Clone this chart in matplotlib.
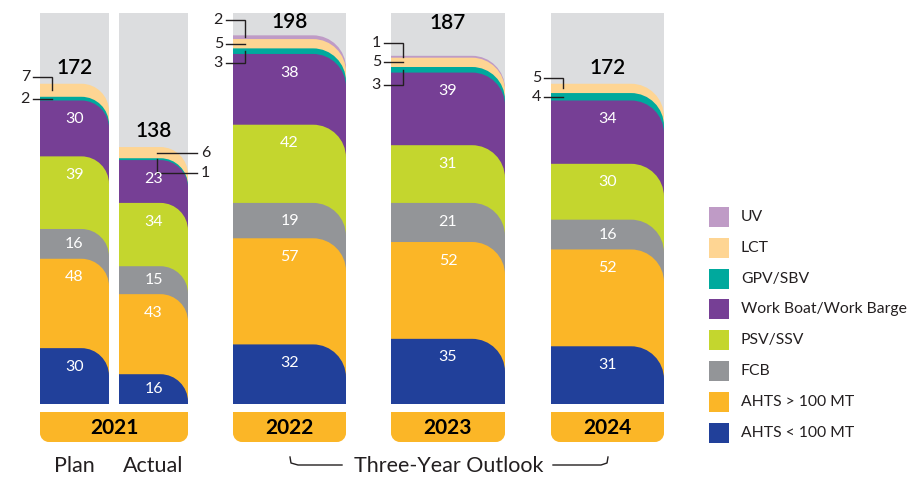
import numpy as np
import matplotlib.pyplot as plt
from matplotlib.path import Path
from matplotlib.patches import PathPatch, Rectangle

plt.rcParams['font.family'] = ['Lato', 'DejaVu Sans']

# Data: fleet by vessel type, bottom to top
categories = ['AHTS < 100 MT', 'AHTS > 100 MT', 'FCB', 'PSV/SSV',
              'Work Boat/Work Barge', 'GPV/SBV', 'LCT', 'UV']
colors = ['#21409a', '#fbb627', '#939598', '#c4d62e',
          '#763f95', '#00a99d', '#fed593', '#bf9bc6']

bars = ['Plan', 'Actual', '2022', '2023', '2024']
ahts_small = [30, 16, 32, 35, 31]
ahts_large = [48, 43, 57, 52, 52]
fcb = [16, 15, 19, 21, 16]
psv = [39, 34, 42, 31, 30]
work_boat = [30, 23, 38, 39, 34]
gpv = [2, 1, 3, 3, 4]
lct = [7, 6, 5, 5, 5]
uv = [0, 0, 2, 1, 0]
years = ['2021', '2022', '2023', '2024']

series = np.array([ahts_small, ahts_large, fcb, psv, work_boat, gpv, lct, uv])
cum = np.cumsum(series, axis=0)
totals = cum[-1]

# layout (x in pixels, y in data units)
PX = 391 / 210          # pixels per unit
Y0 = 404                # pixel row of the baseline
x_left = [40, 119, 233, 391, 551]
x_right = [109, 188, 346, 505, 664]
total_pad = [8.5, 8.5, 7, 17.5, 8.3]
TXT = '#231f20'

def py(p):
    return (Y0 - p) / PX

fig = plt.figure(figsize=(9.1, 4.78), dpi=100)
ax = fig.add_axes([0, 0, 1, 1])
ax.set_xlim(0, 910)
ax.set_ylim(py(478), py(0))
ax.axis('off')

K = 0.5523

def round_bar(x0, x1, top, r, color, bottom=0.0):
    rx, ry = r, r / PX
    verts = [(x0, bottom), (x1, bottom), (x1, top - ry),
             (x1, top - ry + K * ry), (x1 - rx + K * rx, top), (x1 - rx, top),
             (x0, top), (x0, bottom)]
    codes = [Path.MOVETO, Path.LINETO, Path.LINETO, Path.CURVE4, Path.CURVE4,
             Path.CURVE4, Path.LINETO, Path.CLOSEPOLY]
    ax.add_patch(PathPatch(Path(verts, codes), facecolor=color, edgecolor='none'))

def bottom_round_box(x0, x1, y_top, y_bot, r, color):
    rx, ry = r, r / PX
    verts = [(x0, y_top), (x1, y_top), (x1, y_bot + ry),
             (x1, y_bot + ry - K * ry), (x1 - rx + K * rx, y_bot), (x1 - rx, y_bot),
             (x0 + rx, y_bot),
             (x0 + rx - K * rx, y_bot), (x0, y_bot + ry - K * ry), (x0, y_bot + ry),
             (x0, y_top)]
    codes = [Path.MOVETO, Path.LINETO, Path.LINETO, Path.CURVE4, Path.CURVE4,
             Path.CURVE4, Path.LINETO, Path.CURVE4, Path.CURVE4, Path.CURVE4,
             Path.CLOSEPOLY]
    ax.add_patch(PathPatch(Path(verts, codes), facecolor=color, edgecolor='none'))

for b in range(len(bars)):
    x0, x1 = x_left[b], x_right[b]
    w = x1 - x0
    r = min(33, 0.4 * w)
    ax.add_patch(Rectangle((x0, 0), w, 210, facecolor='#dcdddf', edgecolor='none'))
    for s in range(len(categories) - 1, -1, -1):
        if series[s, b] == 0:
            continue
        round_bar(x0, x1, cum[s, b], r, colors[s])
    # labels inside the big segments
    for s in range(5):
        h = series[s, b]
        ax.text((x0 + x1) / 2, cum[s, b] - min(h / 2, 10), str(h), color='white',
                ha='center', va='center', fontsize=11.5)
    ax.text((x0 + x1) / 2, totals[b] + total_pad[b], str(totals[b]), color='black',
            ha='center', va='center', fontsize=15, fontweight='semibold')

# callouts for the thin top segments: (bar, segment, label y, side)
callouts = [(0, 6, 175.6, 'L'), (0, 5, None, 'L'),
            (1, 6, None, 'R'), (1, 5, 123.8, 'R'),
            (2, 7, 206, 'L'), (2, 6, None, 'L'), (2, 5, 183, 'L'),
            (3, 7, 193.9, 'L'), (3, 6, None, 'L'), (3, 5, 171.3, 'L'),
            (4, 6, 175, 'L'), (4, 5, None, 'L')]
for b, s, ly, side in callouts:
    mid = cum[s, b] - series[s, b] / 2
    if ly is None:
        ly = mid
    if side == 'L':
        xa, xb = x_left[b] - 7, x_left[b] + 12
        ax.plot([xa, xb, xb], [ly, ly, mid], color=TXT, lw=1, solid_joinstyle='miter')
        ax.text(xa - 3, ly, str(series[s, b]), ha='right', va='center',
                fontsize=11.5, color=TXT)
    else:
        xa, xb = x_right[b] - 31, x_right[b] + 9
        ax.plot([xa, xa, xb], [mid, ly, ly], color=TXT, lw=1, solid_joinstyle='miter')
        ax.text(xb + 4, ly, str(series[s, b]), ha='left', va='center',
                fontsize=11.5, color=TXT)

# year boxes
box_left = [x_left[0], x_left[2], x_left[3], x_left[4]]
box_right = [x_right[1], x_right[2], x_right[3], x_right[4]]
for yr, x0, x1 in zip(years, box_left, box_right):
    bottom_round_box(x0, x1, py(412), py(442), 9, '#fbb627')
    ax.text((x0 + x1) / 2, py(428), yr, ha='center', va='center',
            fontsize=15, fontweight='bold', color='black')

# sub labels
ax.text((x_left[0] + x_right[0]) / 2, py(466), 'Plan', ha='center', va='center',
        fontsize=15.5, color=TXT)
ax.text((x_left[1] + x_right[1]) / 2, py(466), 'Actual', ha='center', va='center',
        fontsize=15.5, color=TXT)
ax.text(449, py(466), 'Three-Year Outlook', ha='center', va='center',
        fontsize=15.5, color=TXT)
ax.plot([290, 291, 298, 342], [py(457), py(463), py(465), py(465)], color=TXT, lw=1)
ax.plot([553, 601, 607, 608], [py(465), py(465), py(463), py(457)], color=TXT, lw=1)

# legend, top to bottom
for i, s in enumerate(range(len(categories) - 1, -1, -1)):
    cy = 217 + i * 30.8
    ax.add_patch(Rectangle((709, py(cy + 10)), 20, 20 / PX,
                           facecolor=colors[s], edgecolor='none'))
    ax.text(741, py(cy), categories[s], ha='left', va='center',
            fontsize=11.3, color=TXT)

fig.savefig('out.png', dpi=100)
